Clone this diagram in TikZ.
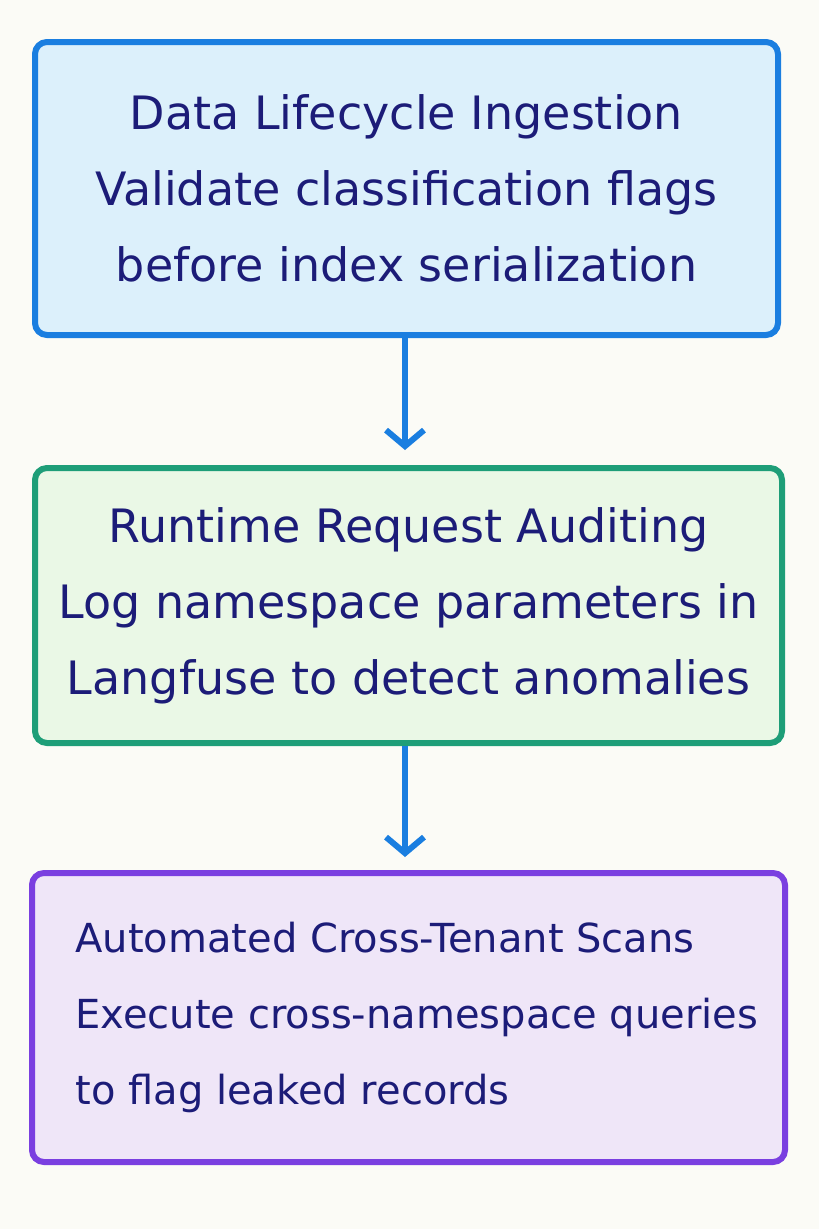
\documentclass[tikz,border=0pt]{standalone}
\usepackage{fontspec}
\setmainfont{DejaVu Sans}
\usetikzlibrary{arrows.meta}
\definecolor{bgpaper}{HTML}{FBFBF6}
\definecolor{ink}{HTML}{1C1C78}
\definecolor{blueline}{HTML}{1A7EE0}
\definecolor{bluefill}{HTML}{DCF0FB}
\definecolor{greenline}{HTML}{1E9E78}
\definecolor{greenfill}{HTML}{EAF8E6}
\definecolor{purpline}{HTML}{7A3FE0}
\definecolor{purpfill}{HTML}{EFE6F8}
\begin{document}
\begin{tikzpicture}[x=1pt,y=-1pt,
  box/.style={draw, line width=6pt, rounded corners=12pt, inner sep=0pt},
  label/.style={text=ink, font=\fontsize{46}{76}\selectfont, align=center},
  flow/.style={draw=blueline, line width=6pt, -{Straight Barb[length=16pt,width=38pt,line width=6pt]}}]
\fill[bgpaper] (0,0) rectangle (819,1229);
\useasboundingbox (0,0) rectangle (819,1229);
% boxes
\node[box, draw=blueline, fill=bluefill, minimum width=743pt, minimum height=293pt]
  (ingest) at (406.5,188.5) {};
\node[label] (ingesttxt) at (ingest)
  {Data Lifecycle Ingestion\\ Validate classification flags\\ before index serialization};
\node[box, draw=greenline, fill=greenfill, minimum width=747pt, minimum height=275pt]
  (audit) at (408.5,605.5) {};
\node[label] (audittxt) at (audit)
  {Runtime Request Auditing\\ Log namespace parameters in\\ Langfuse to detect anomalies};
\node[box, draw=purpline, fill=purpfill, minimum width=753pt, minimum height=289pt]
  (scans) at (408.5,1017.5) {};
\node[label, font=\fontsize{40}{76}\selectfont, align=left, anchor=west] (scanstxt) at (72,1017.5)
  {Automated Cross-Tenant Scans\\ Execute cross-namespace queries\\ to flag leaked records};
% connectors
\draw[flow] (ingest.south -| 405,0) -- (405,450);
\draw[flow] (audit.south -| 405,0) -- (405,857);
\end{tikzpicture}
\end{document}
